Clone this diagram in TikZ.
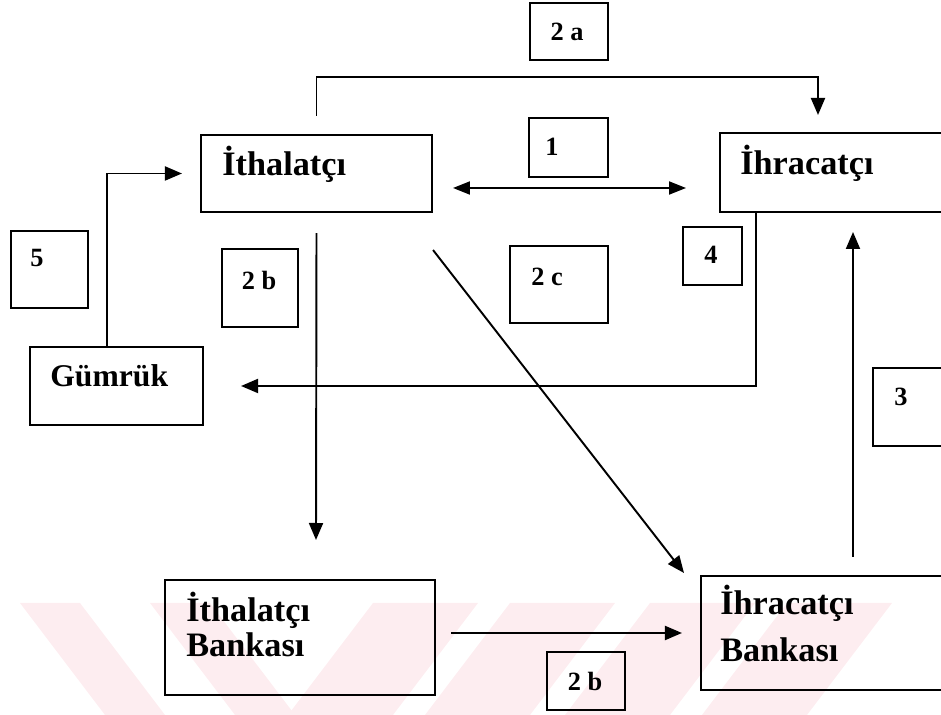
\documentclass[tikz,border=0pt]{standalone}
\usepackage{fontspec}
\setmainfont{Liberation Serif}
\usetikzlibrary{arrows.meta}

\tikzset{
    blk/.style={draw, line width=1.2pt, inner sep=0pt},
    btxt/.style={anchor=base west, inner sep=0pt, font=\fontsize{19.5}{22}\selectfont\bfseries},
    ntxt/.style={anchor=center, inner sep=0pt, font=\fontsize{15}{17}\selectfont\bfseries},
    arr/.style={line width=1.1pt, -{Triangle[length=0.34cm,width=0.28cm]}},
    arrr/.style={line width=1.1pt, {Triangle[length=0.34cm,width=0.26cm]}-{Triangle[length=0.34cm,width=0.26cm]}},
    wm/.style={fill={rgb,255:red,253;green,237;blue,240}, draw=none}
}

\begin{document}
\begin{tikzpicture}[x=0.02cm, y=-0.02cm]
    \clip (0,0) rectangle (941,715);
    %watermark
    \fill[wm] (20,603) -- (80,603) -- (165,715) -- (105,715) -- cycle;
    \fill[wm] (150,603) -- (210,603) -- (295,715) -- (235,715) -- cycle;
    \foreach \s in {373,510,650,787}
        \fill[wm] (\s,603) -- (\s+105,603) -- (\s+20,715) -- (\s-85,715) -- cycle;
    %boxes
    \node[blk, minimum width=4.62cm, minimum height=1.54cm] (ith) at (316.5,173.5) {};
    \node[blk, minimum width=5.6cm, minimum height=1.58cm] (ihr) at (860,172.5) {};
    \node[blk, minimum width=3.46cm, minimum height=1.56cm] (gum) at (116.5,386) {};
    \node[blk, minimum width=5.4cm, minimum height=2.3cm] (ithb) at (300,637.5) {};
    \node[blk, minimum width=5.98cm, minimum height=2.28cm] (ihrb) at (850.5,633) {};
    \node[btxt] (ithT) at (222,176) {İthalatçı};
    \node[btxt] (ihrT) at (740,175) {İhracatçı};
    \node[btxt, font=\fontsize{18}{20}\selectfont\bfseries] (gumT) at (50,387) {Gümrük};
    \node[btxt] (ithbT) at (186,622) {İthalatçı};
    \node[btxt] (ithbB) at (186,657) {Bankası};
    \node[btxt] (ihrbT) at (720,615) {İhracatçı};
    \node[btxt] (ihrbB) at (720,662) {Bankası};
    %numbers
    \node[blk, minimum width=1.56cm, minimum height=1.14cm] (n2a) at (569,31.5) {};
    \node[blk, minimum width=1.58cm, minimum height=1.18cm] (n1) at (568.5,147.5) {};
    \node[blk, minimum width=1.18cm, minimum height=1.16cm] (n4) at (712.5,256) {};
    \node[blk, minimum width=1.54cm, minimum height=1.54cm] (n5) at (49.5,269.5) {};
    \node[blk, minimum width=1.52cm, minimum height=1.56cm] (n2b) at (260,288) {};
    \node[blk, minimum width=1.96cm, minimum height=1.54cm] (n2c) at (559,284.5) {};
    \node[blk, minimum width=2.54cm, minimum height=1.56cm] (n3) at (936.5,407) {};
    \node[blk, minimum width=1.56cm, minimum height=1.16cm] (n2bb) at (586,681) {};
    \node[ntxt] (n2aT) at (567,32) {2 a};
    \node[ntxt] (n1T) at (552,147) {1};
    \node[ntxt] (n4T) at (711,255) {4};
    \node[ntxt] (n5T) at (37,258) {5};
    \node[ntxt] (n2bT) at (259,280) {2 b};
    \node[ntxt] (n2cT) at (547,277) {2 c};
    \node[ntxt] (n3T) at (901,397) {3};
    \node[ntxt] (n2bbT) at (585,681) {2 b};
    %arrows
    \coordinate (c2a) at (818,115);
    \coordinate (c1a) at (453,188);
    \coordinate (c1b) at (686,188);
    \coordinate (c2b) at (316,540);
    \coordinate (c2c) at (684,573);
    \coordinate (c3s) at (853,557);
    \coordinate (c3e) at (853,232);
    \draw[arr] ([yshift=0.36cm]ith.north) -- ++(0,-39) -| (c2a);
    \draw[arrr] (c1a) -- (c1b);
    \draw[arr] ([xshift=-0.19cm]gum.north) |- ([xshift=-0.36cm]ith.west);
    \draw[arr] ([yshift=-0.4cm]ith.south) -- (c2b);
    \draw[arr] ([yshift=-0.74cm]ith.south east) -- (c2c);
    \draw[arr] (ithb.east |- ihrb.west) ++(15,0) -- ([xshift=-0.36cm]ihrb.west);
    \draw[arr] ([xshift=0.74cm]ihr.south west) |- ([xshift=0.74cm]gum.east);
    \draw[arr] (c3s) -- (c3e);
\end{tikzpicture}
\end{document}
